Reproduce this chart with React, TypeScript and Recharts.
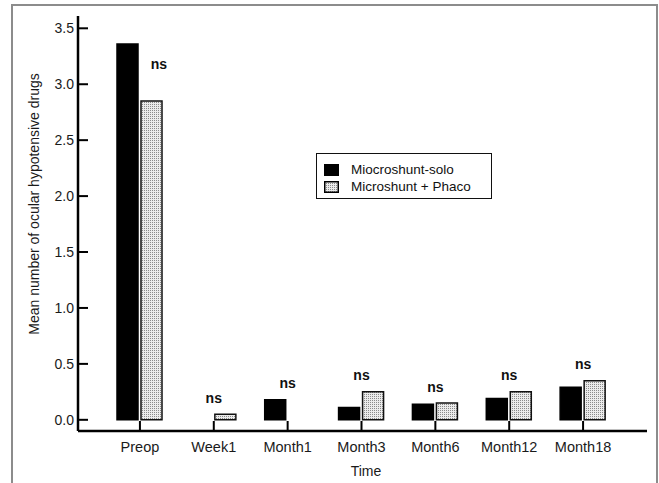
import React from "react";
import {
  BarChart,
  Bar,
  XAxis,
  YAxis,
  Legend,
  ReferenceDot,
} from "recharts";

const times = ["Preop", "Week1", "Month1", "Month3", "Month6", "Month12", "Month18"];
const soloDrugs = [3.36, 0, 0.18, 0.11, 0.14, 0.19, 0.29];
const phacoDrugs = [2.85, 0.05, 0, 0.25, 0.15, 0.25, 0.35];
const yTicks = [0, 0.5, 1, 1.5, 2, 2.5, 3, 3.5];

const soloName = "Miocroshunt-solo";
const phacoName = "Microshunt + Phaco";

const data = times.map((time, i) => ({
  time,
  solo: soloDrugs[i],
  phaco: phacoDrugs[i],
}));

// "ns" sits over the taller bar; at Preop it goes next to the solo bar, above the phaco one
const nsMarks = times.map((time, i) => ({
  time,
  value: i === 0 ? phacoDrugs[i] : Math.max(soloDrugs[i], phacoDrugs[i]),
  first: i === 0,
}));

const FONT = "'Liberation Sans', Arial, sans-serif";

function Stipple({ id }: { id: string }) {
  return (
    <pattern id={id} width="2" height="2" patternUnits="userSpaceOnUse">
      <rect width="2" height="2" fill="#ebebeb" />
      <rect width="1" height="1" fill="#8a8a8a" />
    </pattern>
  );
}

function KeyBox() {
  const rows = [
    { name: soloName, dotted: false },
    { name: phacoName, dotted: true },
  ];
  return (
    <div
      style={{
        border: "1.5px solid #111",
        width: 176,
        height: 46,
        boxSizing: "border-box",
        padding: "7px 0 0 7px",
        fontFamily: FONT,
        fontSize: 13.5,
        color: "#111",
        background: "#fff",
      }}
    >
      {rows.map((r) => (
        <div
          key={r.name}
          style={{ display: "flex", alignItems: "center", height: 17 }}
        >
          <svg width={15} height={12} style={{ marginRight: 12 }}>
            <defs>
              <Stipple id="stipple-key" />
            </defs>
            <rect
              x={0.75}
              y={0.75}
              width={13.5}
              height={10.5}
              fill={r.dotted ? "url(#stipple-key)" : "#000"}
              stroke="#000"
              strokeWidth={1.5}
            />
          </svg>
          <span>{r.name}</span>
        </div>
      ))}
    </div>
  );
}

export default function App() {
  return (
    <div
      style={{
        position: "fixed",
        left: 0,
        top: 0,
        width: 659,
        height: 483,
        overflow: "hidden",
        background: "#fff",
      }}
    >
      <div
        style={{
          position: "absolute",
          left: 11,
          top: 4,
          width: 643,
          height: 520,
          border: "2px solid #8c8c8c",
        }}
      />
      <div style={{ position: "absolute", left: 0, top: 0 }}>
        <BarChart
          width={659}
          height={483}
          data={data}
          margin={{ top: 16, right: 12, left: 0, bottom: 0 }}
          barSize={21}
          barGap={3}
        >
          <defs>
            <Stipple id="stipple" />
          </defs>
          <XAxis
            dataKey="time"
            height={52}
            padding={{ left: 25, right: 27 }}
            axisLine={{ stroke: "#000", strokeWidth: 2.5 }}
            tickLine={{ stroke: "#000", strokeWidth: 2 }}
            tickSize={-10}
            tickMargin={21}
            interval={0}
            tick={{ fontSize: 14.5, fill: "#1a1a1a", fontFamily: FONT }}
            label={{
              content: () => (
                <text
                  x={366}
                  y={471}
                  textAnchor="middle"
                  dominantBaseline="central"
                  fontSize={14}
                  fill="#1a1a1a"
                  fontFamily={FONT}
                >
                  Time
                </text>
              ),
            }}
          />
          <YAxis
            width={78}
            domain={[-0.1, 3.61]}
            ticks={yTicks}
            allowDataOverflow
            axisLine={{ stroke: "#000", strokeWidth: 2.5 }}
            tickLine={{ stroke: "#000", strokeWidth: 2 }}
            tickSize={-10}
            tickMargin={14}
            tickFormatter={(v: number) => v.toFixed(1)}
            tick={{ fontSize: 14, fill: "#1a1a1a", fontFamily: FONT }}
            label={{
              content: () => (
                <text
                  transform="translate(34,204) rotate(-90)"
                  textAnchor="middle"
                  dominantBaseline="central"
                  fontSize={14}
                  fill="#1a1a1a"
                  fontFamily={FONT}
                >
                  Mean number of ocular hypotensive drugs
                </text>
              ),
            }}
          />
          <Legend
            layout="horizontal"
            verticalAlign="middle"
            align="center"
            wrapperStyle={{ position: "absolute", left: 316, top: 153, width: 176, height: 46 }}
            content={() => <KeyBox />}
          />
          <Bar
            dataKey="solo"
            name={soloName}
            fill="#000"
            stroke="#000"
            strokeWidth={1.5}
            isAnimationActive={false}
          />
          <Bar
            dataKey="phaco"
            name={phacoName}
            fill="url(#stipple)"
            stroke="#111"
            strokeWidth={1.5}
            isAnimationActive={false}
          />
          {nsMarks.map((m) => (
            <ReferenceDot
              key={m.time}
              x={m.time}
              y={m.value}
              r={0}
              stroke="none"
              shape={(p: { cx: number; cy: number }) => (
                <text
                  x={p.cx + (m.first ? 19 : 0)}
                  y={p.cy - (m.first ? 37 : 16.5)}
                  textAnchor="middle"
                  dominantBaseline="central"
                  fontSize={14}
                  fontWeight="bold"
                  fill="#111"
                  fontFamily={FONT}
                >
                  ns
                </text>
              )}
            />
          ))}
        </BarChart>
      </div>
    </div>
  );
}
